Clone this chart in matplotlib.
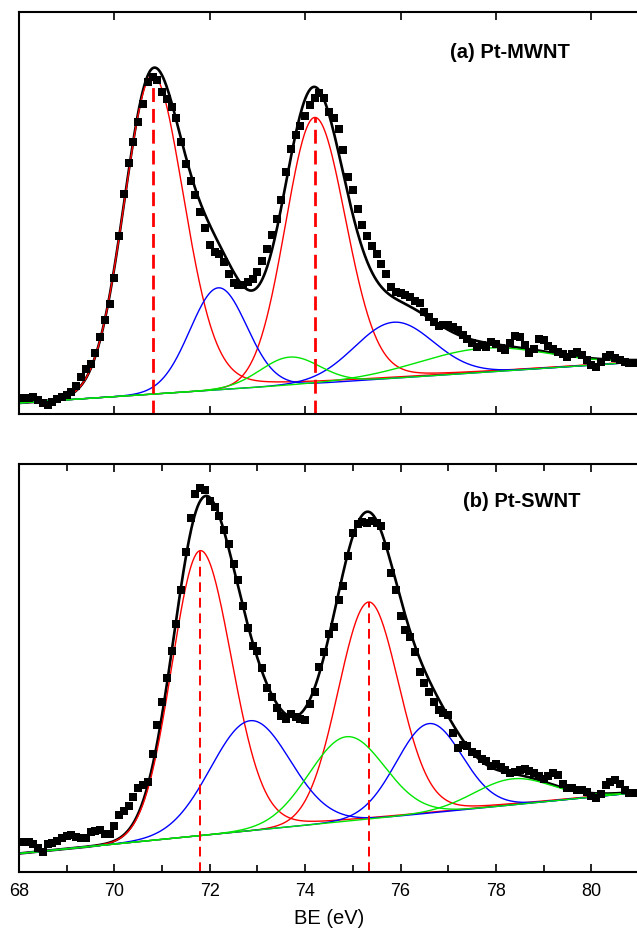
import numpy as np
import matplotlib
matplotlib.use("Agg")
import matplotlib.pyplot as plt

plt.rcParams['font.family'] = ['Liberation Sans', 'DejaVu Sans']

# Binding energy axis of the measured spectra (eV), 0.1 eV step
be = np.round(np.arange(68.0, 81.0001, 0.1), 1)

# Pt 4f spectrum, Pt-MWNT (arbitrary intensity units)
mwnt_counts = [
    16, 16, 16, 17, 14, 11, 9, 12, 15, 17,
    19, 22, 28, 37, 45, 50, 61, 77, 94, 110,
    136, 178, 220, 251, 272, 292, 310, 332, 337, 334,
    322, 315, 307, 296, 272, 250, 233, 219, 202, 186,
    169, 162, 160, 152, 140, 131, 129, 129, 132, 135,
    142, 153, 165, 179, 195, 214, 242, 265, 279, 288,
    298, 309, 316, 321, 316, 302, 296, 285, 264, 237,
    224, 205, 189, 178, 168, 160, 150, 140, 127, 122,
    121, 119, 117, 113, 111, 102, 97, 92, 88, 89,
    89, 87, 84, 79, 75, 71, 67, 69, 67, 72,
    70, 66, 64, 71, 78, 77, 69, 61, 65, 75,
    74, 68, 65, 62, 60, 57, 60, 62, 59, 54,
    49, 47, 52, 57, 59, 56, 54, 52, 51, 51,
    51,
]

# Pt 4f spectrum, Pt-SWNT (arbitrary intensity units)
swnt_counts = [
    30, 30, 30, 28, 24, 20, 28, 29, 31, 34,
    36, 37, 35, 34, 34, 40, 41, 42, 38, 38,
    46, 57, 61, 66, 75, 84, 87, 90, 118, 147,
    170, 194, 221, 248, 282, 320, 354, 378, 384, 382,
    371, 365, 356, 342, 328, 308, 292, 266, 244, 226,
    221, 204, 184, 175, 164, 156, 153, 158, 155, 153,
    152, 168, 180, 205, 220, 238, 245, 272, 286, 316,
    339, 348, 350, 349, 351, 349, 346, 326, 299, 282,
    256, 242, 235, 220, 200, 189, 180, 170, 162, 159,
    157, 139, 124, 127, 126, 120, 118, 113, 111, 106,
    108, 105, 102, 99, 100, 102, 103, 101, 99, 96,
    93, 96, 99, 97, 88, 84, 84, 82, 82, 80,
    76, 74, 78, 87, 90, 92, 88, 82, 79, 79,
    79,
]

# Linear background (value at 68 eV, value at 81 eV)
mwnt_background = [11.0, 52.0]
swnt_background = [18.5, 79.6]

# Fitted components: colour, centre (eV), height, HWHM low side, HWHM high side, tail fraction
mwnt_colors = ['red', 'red', 'blue', 'blue', 'green', 'green']
mwnt_centers = [70.80, 74.20, 72.18, 75.86, 73.68, 77.75]
mwnt_heights = [319, 266, 102, 56, 28, 24]
mwnt_hw_low = [0.70, 0.72, 0.70, 0.97, 0.73, 1.60]
mwnt_hw_high = [0.78, 0.77, 0.70, 0.97, 0.73, 1.60]
mwnt_tail = [0.15, 0.10, 0.0, 0.0, 0.0, 0.0]

swnt_colors = ['red', 'red', 'blue', 'blue', 'green', 'green']
swnt_centers = [71.80, 75.33, 72.85, 76.60, 74.87, 78.35]
swnt_heights = [285, 217, 110, 89.5, 84.5, 26]
swnt_hw_low = [0.70, 0.75, 0.98, 0.81, 0.93, 0.95]
swnt_hw_high = [0.78, 0.75, 0.98, 0.81, 0.93, 0.95]
swnt_tail = [0.10, 0.10, 0.0, 0.0, 0.0, 0.0]

panel_labels = ['(a) Pt-MWNT', '(b) Pt-SWNT']
x_label = 'BE (eV)'

COLOR_MAP = {'red': '#ff0000', 'blue': '#0000ff', 'green': '#00e600'}


def peak(e, c, a, hwl, hwr, tail):
    hw = np.where(e < c, hwl, hwr)
    u = (e - c) / hw
    g = np.exp(-np.log(2.0) * u ** 2)
    lor = 1.0 / (1.0 + u ** 2)
    mix = np.where(e < c, 0.0, tail)
    return a * ((1.0 - mix) * g + mix * lor)


def background(e, bg):
    return bg[0] + (bg[1] - bg[0]) * (e - 68.0) / 13.0


def draw_panel(ax, counts, bg, colors, centers, heights, hwl, hwr, tails,
               label, label_xy, ymax, dash_lw, dash_pat, minor):
    e = np.linspace(68.0, 81.0, 800)
    base = background(e, bg)
    total = base.copy()
    comps = []
    for col, c, a, l, r, t in zip(colors, centers, heights, hwl, hwr, tails):
        p = peak(e, c, a, l, r, t)
        total += p
        comps.append((col, base + p))

    ax.plot(e, total, color='black', lw=1.9, zorder=1)
    for col in ['red', 'blue', 'green']:
        for cc, yy in comps:
            if cc == col:
                ax.plot(e, yy, color=COLOR_MAP[col], lw=1.0, zorder=2)

    # dashed markers at the Pt 4f7/2 and 4f5/2 positions
    for col, c, a in zip(colors, centers, heights):
        if col == 'red':
            top = background(np.array(c), bg) + a
            ax.plot([c, c], [0, top], color='#ff0000', lw=dash_lw,
                    dashes=dash_pat, zorder=2)

    ax.plot(be, counts, linestyle='none', marker='s', markersize=5.2,
            color='black', markeredgewidth=0, zorder=3)

    ax.set_xlim(68, 81)
    ax.set_ylim(0, ymax)
    ax.set_yticks([])
    ax.set_xticks(np.arange(68, 81, 2))
    if minor:
        ax.set_xticks(np.arange(69, 81, 2), minor=True)
        ax.tick_params(axis='x', which='minor', direction='in', top=True,
                       bottom=True, length=5, width=1.2)
    ax.tick_params(axis='x', which='major', direction='in', top=True,
                   bottom=True, length=6, width=1.2, labelsize=13, pad=8)
    for s in ax.spines.values():
        s.set_linewidth(1.5)
    ax.text(label_xy[0], label_xy[1], label, transform=ax.transAxes,
            fontsize=14.5, fontweight='bold', ha='left', va='center')


fig = plt.figure(figsize=(6.37, 9.30), dpi=100)
ax_top = fig.add_axes([19 / 637, 1 - 414 / 930, 620 / 637, 402 / 930])
ax_bot = fig.add_axes([19 / 637, 1 - 872 / 930, 620 / 637, 408 / 930])

draw_panel(ax_top, mwnt_counts, mwnt_background, mwnt_colors, mwnt_centers,
           mwnt_heights, mwnt_hw_low, mwnt_hw_high, mwnt_tail,
           panel_labels[0], (0.695, 0.90), 402, 2.0, (5, 2.5), False)
ax_top.tick_params(axis='x', labelbottom=False)

draw_panel(ax_bot, swnt_counts, swnt_background, swnt_colors, swnt_centers,
           swnt_heights, swnt_hw_low, swnt_hw_high, swnt_tail,
           panel_labels[1], (0.716, 0.908), 408, 1.4, (5, 3), True)
ax_bot.set_xlabel(x_label, fontsize=14.5)
ax_bot.xaxis.set_label_coords(0.5, -0.113)
ax_bot.xaxis.label.set_va('center')

fig.savefig('out.png', dpi=100)
